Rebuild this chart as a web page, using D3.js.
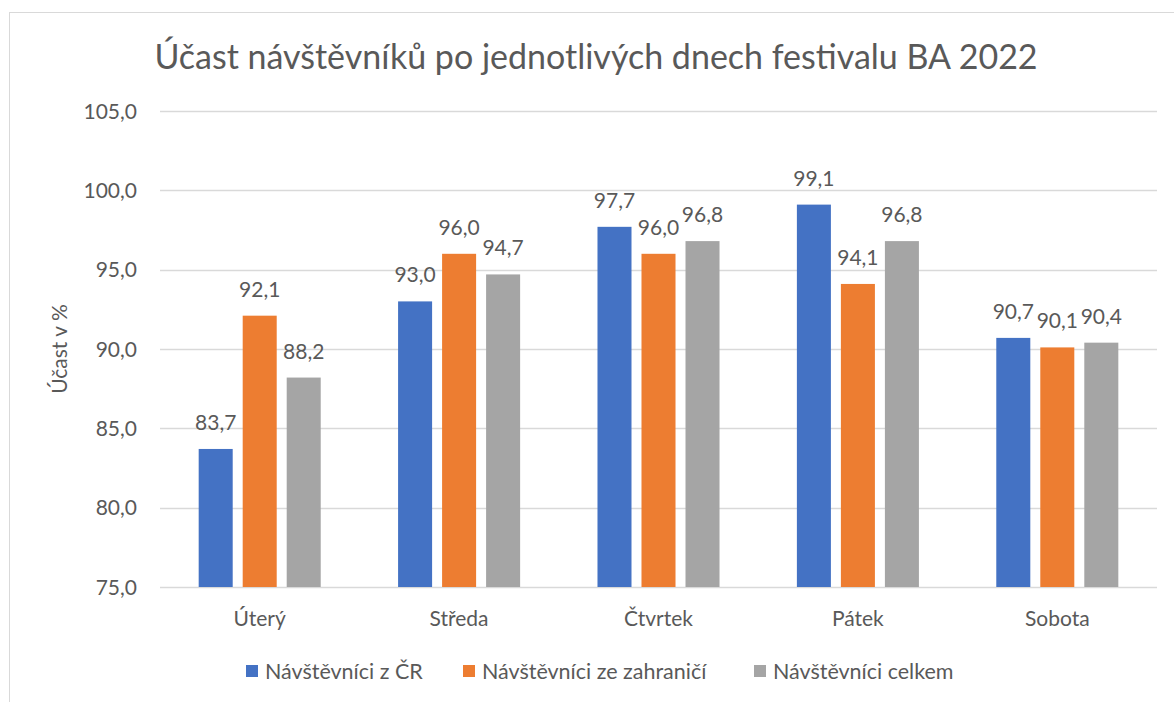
<!DOCTYPE html>
<html>
<head>
<meta charset="utf-8">
<script src="https://cdn.jsdelivr.net/npm/d3@7"></script>
<style>
    body { margin: 0; background: #fff; }
    text { font-family: Lato, "Noto Sans", sans-serif; fill: #595959; }
</style>
</head>
<body>
<div id="chart"></div>
<script>
// data
const days = ["Úterý", "Středa", "Čtvrtek", "Pátek", "Sobota"];
const seriesNames = ["Návštěvníci z ČR", "Návštěvníci ze zahraničí", "Návštěvníci celkem"];
const czValues = [83.7, 93.0, 97.7, 99.1, 90.7];
const foreignValues = [92.1, 96.0, 96.0, 94.1, 90.1];
const totalValues = [88.2, 94.7, 96.8, 96.8, 90.4];
const yTicks = [75, 80, 85, 90, 95, 100, 105];
const colors = ["#4472C4", "#ED7D31", "#A5A5A5"];

const allValues = [czValues, foreignValues, totalValues];
const fmt = v => v.toFixed(1).replace(".", ",");

const svg = d3.select("#chart")
    .append("svg")
    .attr("width", 1174)
    .attr("height", 702);

// chart border
svg.append("rect")
    .attr("x", 9.5).attr("y", 12.5)
    .attr("width", 1200).attr("height", 800)
    .attr("fill", "none")
    .attr("stroke", "#D9D9D9")
    .attr("stroke-width", 1);

const plot = { left: 160, right: 1157, top: 111, bottom: 587 };

const x0 = d3.scaleBand()
    .domain(days)
    .range([plot.left, plot.right])
    .paddingInner(0.388)
    .paddingOuter(0.194);

const x1 = d3.scaleBand()
    .domain(d3.range(seriesNames.length))
    .range([0, x0.bandwidth()])
    .paddingInner(0.227);

const y = d3.scaleLinear()
    .domain([75, 105])
    .range([plot.bottom, plot.top]);

// gridlines
svg.append("g")
    .selectAll("line")
    .data(yTicks)
    .join("line")
    .attr("x1", plot.left).attr("x2", plot.right)
    .attr("y1", d => Math.round(y(d)) + 0.5)
    .attr("y2", d => Math.round(y(d)) + 0.5)
    .attr("stroke", "#D9D9D9")
    .attr("stroke-width", 1.3);

// y tick labels
svg.append("g")
    .selectAll("text")
    .data(yTicks)
    .join("text")
    .attr("x", 137)
    .attr("y", d => y(d))
    .attr("dy", "0.36em")
    .attr("text-anchor", "end")
    .style("font-size", "21px")
    .text(d => fmt(d));

// bars
const groups = svg.append("g")
    .selectAll("g")
    .data(days)
    .join("g")
    .attr("transform", d => `translate(${x0(d)},0)`);

groups.selectAll("rect")
    .data((d, i) => allValues.map((vals, s) => ({ s: s, v: vals[i] })))
    .join("rect")
    .attr("x", d => x1(d.s))
    .attr("width", x1.bandwidth())
    .attr("y", d => y(d.v))
    .attr("height", d => y(75) - y(d.v))
    .attr("fill", d => colors[d.s]);

groups.selectAll("text")
    .data((d, i) => allValues.map((vals, s) => ({ s: s, v: vals[i] })))
    .join("text")
    .attr("x", d => x1(d.s) + x1.bandwidth() / 2)
    .attr("y", d => y(d.v) - 19)
    .attr("text-anchor", "middle")
    .style("font-size", "21px")
    .text(d => fmt(d.v));

// x labels
svg.append("g")
    .selectAll("text")
    .data(days)
    .join("text")
    .attr("x", d => x0(d) + x0.bandwidth() / 2)
    .attr("y", 626)
    .attr("text-anchor", "middle")
    .style("font-size", "21px")
    .text(d => d);

// y axis title
svg.append("text")
    .attr("transform", `translate(67,${(plot.top + plot.bottom) / 2}) rotate(-90)`)
    .attr("text-anchor", "middle")
    .style("font-size", "21px")
    .text("Účast v %");

// title
svg.append("text")
    .attr("x", 596)
    .attr("y", 69)
    .attr("text-anchor", "middle")
    .style("font-size", "34px")
    .text("Účast návštěvníků po jednotlivých dnech festivalu BA 2022");

// legend
const legendX = [246, 463, 754];
const legend = svg.append("g")
    .selectAll("g")
    .data(seriesNames)
    .join("g")
    .attr("transform", (d, i) => `translate(${legendX[i]},671)`);

legend.append("rect")
    .attr("x", 0).attr("y", -6)
    .attr("width", 12).attr("height", 12)
    .attr("fill", (d, i) => colors[i]);

legend.append("text")
    .attr("x", 19)
    .attr("dy", "0.36em")
    .style("font-size", "21.5px")
    .text(d => d);
</script>
</body>
</html>
